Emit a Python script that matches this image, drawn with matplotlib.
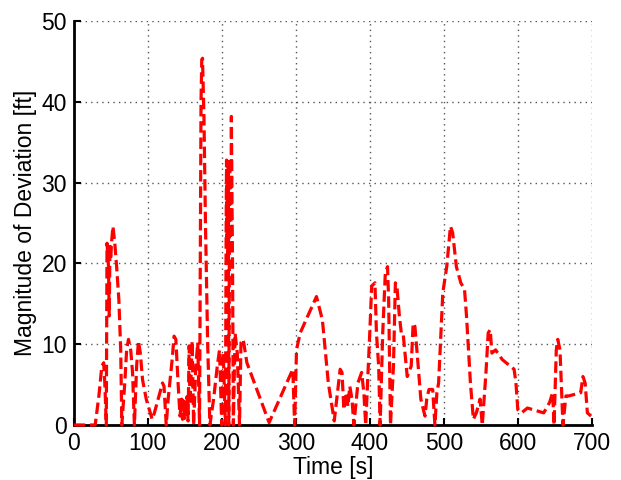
import matplotlib
matplotlib.use("Agg")
import matplotlib.pyplot as plt

time_s = [0, 23, 29, 34, 38, 40.5, 42, 44, 45, 47, 48, 49, 50, 51, 53, 55.5, 58, 61, 63.5, 65,
          69, 71.5, 74, 77, 79.5, 82, 85, 87.5, 90, 93, 98, 106, 109, 114, 120, 122, 125, 127.6,
          133, 135.6, 138, 141, 143.6, 146, 147, 148, 149.5, 151, 152, 153, 154.5, 156, 157,
          158.5, 160, 162, 165, 167.6, 170, 172, 173, 174, 176, 178, 181, 184, 189, 194, 197,
          200, 202, 205, 206, 206.5, 207, 207.5, 208, 208.5, 209, 209.5, 210.5, 211, 211.5,
          212, 212.5, 213, 213.8, 214.6, 215.7, 218, 221, 224, 226, 229, 232, 234, 264, 296,
          298.5, 301, 306, 328, 336, 344, 352, 360, 362.5, 365, 368, 370.5, 373, 376, 378.5,
          384, 389, 392, 394.5, 397, 400, 402.6, 407, 409, 412, 414, 417.5, 421, 424, 425.5,
          428, 432, 434.6, 437, 440, 442.6, 445, 450.6, 456, 458.6, 461, 464, 469, 474.6, 477,
          480, 485, 488, 490.7, 493, 498.7, 504, 509, 512, 517, 523, 528, 530.7, 536, 540, 544,
          549, 552, 557, 560, 562.7, 565, 570, 579, 595, 597.5, 600, 605, 613, 635, 643, 647,
          649, 652, 654, 657, 661, 665, 669, 685, 688, 691, 694, 699]

deviation_ft = [0, 0, 0, 3.6, 7.3, 7.7, 5.2, 0, 22.5, 19.6, 13.5, 22.3, 20.5, 22.5, 24.6, 22.5,
                19.6, 15.5, 9.3, 0, 5.2, 9.3, 10.6, 9.3, 6.5, 0, 7.3, 10.4, 8.9, 5.6, 3.2, 0.7,
                1.5, 3.2, 5.2, 4.8, 0, 3.2, 8.1, 11, 10.6, 5.2, 1.1, 3.2, 0.7, 3.0, 0.8, 3.2, 1.0,
                3.5, 0.5, 9.8, 2.5, 6.0, 10.4, 0, 7.3, 10.2, 0, 40, 45.2, 45.4, 38, 25, 10, 0,
                3.2, 7.3, 9.3, 0, 8.9, 0, 25, 32.8, 22, 30, 21, 32, 24, 0, 26, 33, 22, 30, 25,
                38.2, 28, 19.6, 0, 11.4, 8.9, 0, 10.2, 10.6, 8.9, 7.7, 0.3, 6.9, 0, 9.3, 11.4,
                15.9, 13, 5.2, 0.5, 6.9, 6.5, 1.9, 4, 2.3, 4.8, 3.2, 0, 5.2, 6.5, 4, 0, 5.2,
                11.4, 17.2, 17.6, 11.4, 7.3, 0, 11.4, 18.8, 19.6, 15.5, 0, 7.3, 17.6, 16.8, 13.5,
                11.4, 11.4, 6, 7.3, 12.6, 12.2, 8.9, 3.2, 1.1, 3.2, 4.4, 4.4, 0, 4, 5.2, 16.4,
                19.6, 24.6, 23.8, 19.6, 17.6, 16.8, 13.5, 5.2, 0.7, 1.5, 3.2, 0, 6.5, 11.4, 11.8,
                8.9, 9.3, 8.1, 6.9, 5.2, 1.9, 1.5, 2.1, 1.5, 2.8, 4, 0, 9.3, 10.6, 9.3, 0, 3.6,
                3.6, 4, 6, 5.2, 1.5, 1.1]

x_ticks = [0, 100, 200, 300, 400, 500, 600, 700]
y_ticks = [0, 10, 20, 30, 40, 50]

plt.rcParams['font.family'] = ['Liberation Sans', 'DejaVu Sans']

fig = plt.figure(figsize=(6.21, 4.8), dpi=100)
ax = fig.add_axes([0.1187, 0.1146, 0.953 - 0.1187, 0.956 - 0.1146])

ax.plot(time_s, deviation_ft, color='red', linewidth=2.3,
        linestyle=(0, (3.6, 1.5)), clip_on=False, zorder=3)

ax.set_xlim(0, 700)
ax.set_ylim(0, 50)
ax.set_xticks(x_ticks)
ax.set_yticks(y_ticks)
ax.tick_params(direction='in', length=5, width=1.5, labelsize=16.5, pad=5)
ax.grid(True, linestyle=(0, (1, 3)), color='#555555', linewidth=1.0)
ax.set_axisbelow(True)
for s in ['top', 'right']:
    ax.spines[s].set_visible(False)
for s in ['left', 'bottom']:
    ax.spines[s].set_linewidth(2.0)
    ax.spines[s].set_zorder(2.5)
ax.set_xlabel('Time [s]', fontsize=16.5, labelpad=1)
ax.set_ylabel('Magnitude of Deviation [ft]', fontsize=16.5, labelpad=3)

fig.savefig('out.png', dpi=100)
